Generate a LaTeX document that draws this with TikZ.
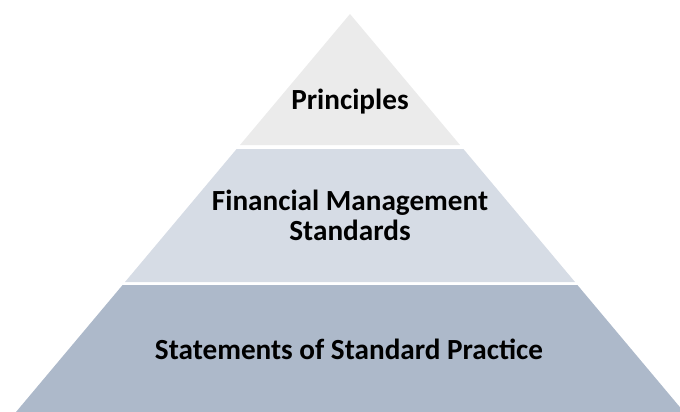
\documentclass[tikz,border=0pt]{standalone}
\usepackage{fontspec}
\setmainfont{Carlito}
\usepackage{xcolor}
\definecolor{tiertop}{HTML}{EBEBEB}
\definecolor{tiermid}{HTML}{D6DCE5}
\definecolor{tierbase}{HTML}{ADB9CA}

\begin{document}
\begin{tikzpicture}[x=1pt,y=-1pt,line join=round,
    tierlabel/.style={font=\fontsize{29.2}{30}\selectfont\bfseries,align=center,text=black,inner sep=0pt}]
  \useasboundingbox (0,0) rectangle (680,412);
  \clip (0,0) rectangle (680,412);
  \coordinate (Apex) at (350,14);
  \coordinate (TL) at (240,145);
  \coordinate (TR) at (460,145);
  \coordinate (ML1) at (236.6,149);
  \coordinate (MR1) at (463.4,149);
  \coordinate (ML2) at (125,282);
  \coordinate (MR2) at (575,282);
  \coordinate (BL1) at (122.6,285);
  \coordinate (BR1) at (577.4,285);
  \coordinate (BL2) at (16,412);
  \coordinate (BR2) at (684,412);
  \fill[tiertop] (Apex) -- (TR) -- (TL) -- cycle;
  \fill[tiermid] (ML1) -- (MR1) -- (MR2) -- (ML2) -- cycle;
  \fill[tierbase] (BL1) -- (BR1) -- (BR2) -- (BL2) -- cycle;
  \node[tierlabel,anchor=base] (principles) at (350,110) {Principles};
  \node[tierlabel] (fms) at (350,215) {Financial Management\\Standards};
  \node[tierlabel,anchor=base] (ssp) at (349,359) {Statements of Standard Practice};
\end{tikzpicture}
\end{document}
